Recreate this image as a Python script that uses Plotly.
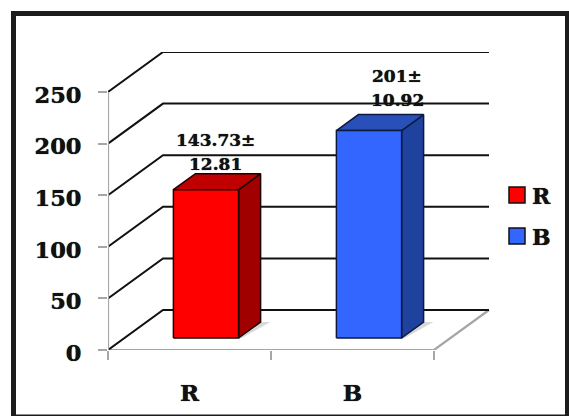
import plotly.graph_objects as go

# Chart data
categories = ["R", "B"]
values = [143.73, 201]
value_labels = [["143.73±", "12.81"], ["201±", "10.92"]]
y_ticks = [0, 50, 100, 150, 200, 250]

# Series colours: front, top and side faces
front_colors = ["#ff0000", "#3366ff"]
top_colors = ["#c00000", "#2850b8"]
side_colors = ["#a00000", "#1f429f"]
edge_colors = ["#1a0000", "#0d1a40"]

WIDTH, HEIGHT = 569, 416
FONT = "DejaVu Serif"
TEXT_COLOR = "#111111"
TEXT_SHADOW = "0 0 0.8px #111111"

# Plot box in pixels and the oblique offset of the back wall
left, right, top, bottom = 108, 490, 52, 350
px_per_cat = 163
px_per_unit = 258 / 250
depth_x = 55 / px_per_cat
depth_y = 40 / px_per_unit
bar_half = 0.2
bar_near, bar_far = 0.3, 0.7

# Pixel nudges of the value labels relative to each box's back edge
label_dx = [-7, 12]
label_dy = [34, 39]


def project(x, y, depth=0.0):
    """Oblique projection of a point into the axis coordinates."""
    return x + depth * depth_x, y + depth * depth_y


def polyline(points, color, width, fill=None, name=None):
    xs, ys = zip(*points)
    return go.Scatter(
        x=list(xs), y=list(ys), mode="lines", name=name,
        line=dict(color=color, width=width),
        fill="toself" if fill else None, fillcolor=fill,
        showlegend=False, hoverinfo="skip",
    )


x_min, x_max = -0.5, 1.5
fig = go.Figure()

# Floor outline
fig.add_trace(polyline(
    [project(x_max, 0, 1), project(x_max, 0, 0), project(x_min, 0, 0)],
    "#a6a6a6", 2.2))

# Gridlines running along the side wall and the back wall
for tick in y_ticks:
    fig.add_trace(polyline(
        [project(x_min, tick, 0), project(x_min, tick, 1), project(x_max, tick, 1)],
        "#111111", 2))

# Value axis line
fig.add_trace(polyline([(x_min, 0), (x_min, y_ticks[-1])], "#a6a6a6", 2.2))

# Boxes
for i, (name, value) in enumerate(zip(categories, values)):
    x0, x1 = i - bar_half, i + bar_half
    # soft contact shadow on the floor
    fig.add_trace(polyline(
        [project(x1, 0, bar_near), project(x1, 0, bar_far),
         project(x1 + 0.06, 0, bar_far), project(x1 + 0.02, 0, bar_near)],
        "rgba(0,0,0,0)", 0, fill="rgba(120,120,120,0.28)"))
    # side face
    fig.add_trace(polyline(
        [project(x1, 0, bar_near), project(x1, 0, bar_far),
         project(x1, value, bar_far), project(x1, value, bar_near), project(x1, 0, bar_near)],
        edge_colors[i], 1.5, fill=side_colors[i]))
    # top face
    fig.add_trace(polyline(
        [project(x0, value, bar_near), project(x1, value, bar_near),
         project(x1, value, bar_far), project(x0, value, bar_far), project(x0, value, bar_near)],
        edge_colors[i], 1.5, fill=top_colors[i]))
    # front face
    fig.add_trace(polyline(
        [project(x0, 0, bar_near), project(x1, 0, bar_near),
         project(x1, value, bar_near), project(x0, value, bar_near), project(x0, 0, bar_near)],
        edge_colors[i], 1.5, fill=front_colors[i], name=name))

# Two-line value labels above the boxes
for i, lines in enumerate(value_labels):
    cx, cy = project(i, values[i], bar_far)
    for j, line in enumerate(lines):
        fig.add_annotation(
            x=cx - 0.035, y=cy, text=f"<b>{line}</b>", showarrow=False,
            xanchor="center", yanchor="middle",
            xshift=label_dx[i], yshift=label_dy[i] - 24 * j,
            font=dict(family=FONT, size=17, color=TEXT_COLOR, shadow=TEXT_SHADOW),
        )

# Outer frame
frame_px = [13.5, 13.5, 567.5, 417]
fig.add_shape(
    type="rect", xref="paper", yref="paper",
    x0=frame_px[0] / WIDTH, x1=frame_px[2] / WIDTH,
    y0=1 - frame_px[3] / HEIGHT, y1=1 - frame_px[1] / HEIGHT,
    line=dict(color="#1c1c1c", width=5), layer="above",
)

# Key at the right of the plot: swatch and series name
key_rows = [195, 236]
for i, name in enumerate(categories):
    cy = key_rows[i]
    fig.add_shape(
        type="rect", xref="paper", yref="paper",
        x0=509 / WIDTH, x1=525 / WIDTH,
        y0=1 - (cy + 8) / HEIGHT, y1=1 - (cy - 8) / HEIGHT,
        line=dict(color="#111111", width=1.5), fillcolor=front_colors[i],
    )
    fig.add_annotation(
        xref="paper", yref="paper", x=532 / WIDTH, y=1 - (cy + 0.5) / HEIGHT,
        text=f"<b>{name}</b>", showarrow=False, xanchor="left", yanchor="middle",
        xshift=-2, font=dict(family=FONT, size=22, color=TEXT_COLOR, shadow=TEXT_SHADOW),
    )

fig.update_layout(
    width=WIDTH, height=HEIGHT,
    margin=dict(l=0, r=0, t=0, b=0, autoexpand=False),
    paper_bgcolor="white", plot_bgcolor="white",
    font=dict(family=FONT, color=TEXT_COLOR),
    showlegend=False,
    xaxis=dict(
        domain=[left / WIDTH, right / WIDTH],
        range=[x_min, x_min + (right - left) / px_per_cat],
        tickmode="array",
        tickvals=list(range(len(categories))),
        ticktext=[f"<b>{c}</b>" for c in categories],
        ticks="", ticklen=0, showgrid=False, zeroline=False, showline=False,
        ticklabelstandoff=27,
        tickfont=dict(family=FONT, size=23, color=TEXT_COLOR, shadow=TEXT_SHADOW),
        minor=dict(tickmode="array", tickvals=[-0.5, 0.5, 1.5], ticks="outside",
                   ticklen=9, tickwidth=2, tickcolor="#a6a6a6", showgrid=False),
    ),
    yaxis=dict(
        domain=[1 - bottom / HEIGHT, 1 - top / HEIGHT],
        range=[0, (bottom - top) / px_per_unit],
        tickmode="array", tickvals=y_ticks,
        ticktext=[f"<b>{t}</b>" for t in y_ticks],
        ticks="outside", ticklen=9, tickwidth=2, tickcolor="#a6a6a6",
        showgrid=False, zeroline=False, showline=False,
        ticklabelstandoff=12, ticklabelshift=3,
        tickfont=dict(family=FONT, size=22.5, color=TEXT_COLOR, shadow=TEXT_SHADOW),
    ),
)

fig.write_html("out.html")
